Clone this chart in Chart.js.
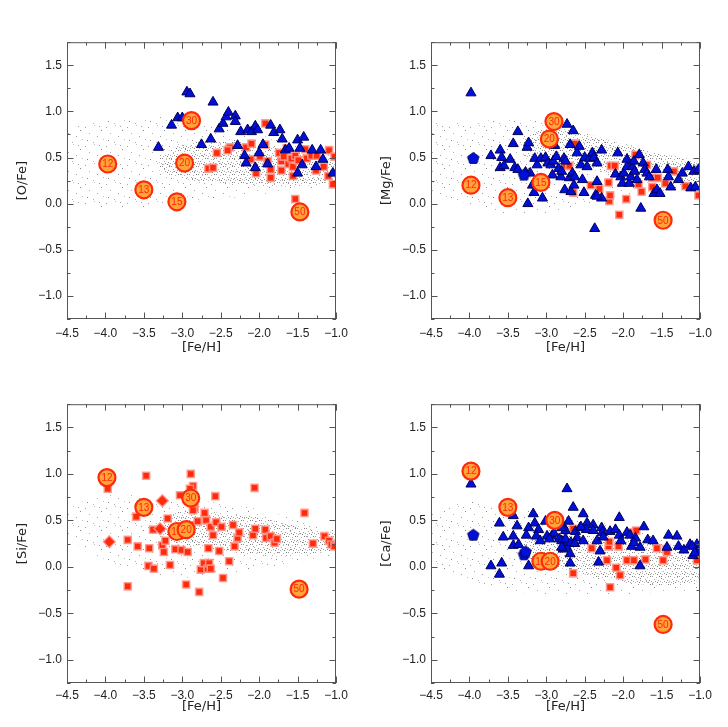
<!DOCTYPE html>
<html>
<head>
<meta charset="utf-8">
<script src="https://cdn.jsdelivr.net/npm/chart.js@4.4.1/dist/chart.umd.min.js"></script>
<style>
  body { margin: 0; background: #fff; }
  #wrap { position: relative; width: 728px; height: 727px; overflow: hidden; }
  #wrap canvas { position: absolute; }
</style>
</head>
<body>
<div id="wrap">
  <canvas id="cO" width="364" height="335" style="left:0;top:30px;width:364px;height:335px"></canvas>
  <canvas id="cMg" width="364" height="335" style="left:364px;top:30px;width:364px;height:335px"></canvas>
  <canvas id="cSi" width="364" height="335" style="left:0;top:392px;width:364px;height:335px"></canvas>
  <canvas id="cCa" width="364" height="335" style="left:364px;top:392px;width:364px;height:335px"></canvas>
</div>
<script>
// ---- data ----
const massLabels = ['12', '13', '15', '20', '30', '50'];

// model cloud envelopes ([Fe/H] grid)
const cloudFeH = [-4.5, -4.0, -3.5, -3.0, -2.5, -2.0, -1.5, -1.0];
const coreFeH = [-3.3, -3.0, -2.5, -2.0, -1.5, -1.0];

const oCloudHi = [0.82, 0.90, 0.93, 0.95, 0.85, 0.75, 0.62, 0.50];
const oCloudLo = [0.02, -0.05, -0.05, 0.00, 0.05, 0.10, 0.15, 0.20];
const oCoreHi = [0.50, 0.64, 0.68, 0.63, 0.57, 0.48];
const oCoreLo = [0.36, 0.27, 0.23, 0.19, 0.19, 0.23];

const mgCloudHi = [0.88, 0.88, 0.92, 0.88, 0.80, 0.66, 0.54, 0.47];
const mgCloudLo = [0.10, 0.00, -0.12, -0.10, -0.02, 0.08, 0.13, 0.18];
const mgCoreHi = [0.72, 0.82, 0.76, 0.64, 0.54, 0.46];
const mgCoreLo = [0.50, 0.43, 0.38, 0.30, 0.26, 0.24];

const siCloudHi = [0.62, 0.80, 0.75, 0.74, 0.68, 0.62, 0.50, 0.40];
const siCloudLo = [0.30, 0.08, -0.06, -0.12, -0.08, -0.02, 0.05, 0.12];
const siCoreHi = [0.52, 0.60, 0.58, 0.53, 0.44, 0.36];
const siCoreLo = [0.34, 0.24, 0.18, 0.12, 0.12, 0.18];

const caCloudHi = [0.60, 0.70, 0.65, 0.58, 0.52, 0.42, 0.34, 0.27];
const caCloudLo = [0.02, -0.15, -0.26, -0.30, -0.30, -0.30, -0.28, -0.25];
const caCoreHi = [0.28, 0.35, 0.34, 0.30, 0.25, 0.20];
const caCoreLo = [0.10, 0.03, -0.08, -0.16, -0.20, -0.15];

// big labelled circles, in massLabels order
const oCircles = [[-3.97, 0.43], [-3.50, 0.15], [-3.07, 0.02], [-2.97, 0.44], [-2.88, 0.90], [-1.47, -0.09]];
const mgCircles = [[-3.98, 0.20], [-3.50, 0.065], [-3.07, 0.23], [-2.96, 0.70], [-2.90, 0.89], [-1.48, -0.18]];
const siCircles = [[-3.98, 0.96], [-3.50, 0.64], [-3.07, 0.38], [-2.95, 0.40], [-2.89, 0.74], [-1.48, -0.24]];
const caCircles = [[-3.98, 1.03], [-3.50, 0.64], [-3.07, 0.06], [-2.95, 0.06], [-2.89, 0.50], [-1.48, -0.62]];

const oTriangles = [
  [-3.31, 0.61], [-3.14, 0.85], [-3.06, 0.93], [-3.00, 0.93], [-2.94, 1.21], [-2.90, 1.19],
  [-2.60, 1.10], [-2.75, 0.64], [-2.63, 0.70], [-2.52, 0.81], [-2.47, 0.87], [-2.43, 0.94],
  [-2.40, 0.99], [-2.31, 0.95], [-2.31, 0.89], [-2.28, 0.63], [-2.24, 0.78], [-2.19, 0.52],
  [-2.17, 0.44], [-2.15, 0.80], [-2.10, 0.78], [-2.05, 0.84], [-2.02, 0.80], [-2.05, 0.39],
  [-2.00, 0.55], [-1.95, 0.64], [-1.85, 0.85], [-1.81, 0.77], [-1.73, 0.80], [-1.70, 0.70],
  [-1.66, 0.58], [-1.61, 0.60], [-1.89, 0.43], [-1.50, 0.69], [-1.42, 0.72], [-1.47, 0.60],
  [-1.44, 0.42], [-1.50, 0.33], [-1.31, 0.58], [-1.26, 0.40], [-1.20, 0.58], [-1.17, 0.48],
  [-1.04, 0.33]
];
const oSquares = [
  [-2.55, 0.55], [-2.66, 0.38], [-2.60, 0.39], [-2.38, 0.61], [-2.41, 0.58], [-2.17, 0.61],
  [-2.10, 0.65], [-2.11, 0.48], [-2.04, 0.33], [-1.92, 0.87], [-1.92, 0.64], [-1.99, 0.51],
  [-1.89, 0.46], [-1.85, 0.37], [-1.85, 0.28], [-1.74, 0.55], [-1.71, 0.46], [-1.71, 0.36],
  [-1.68, 0.51], [-1.64, 0.60], [-1.62, 0.43], [-1.58, 0.49], [-1.56, 0.40], [-1.53, 0.52],
  [-1.56, 0.30], [-1.49, 0.47], [-1.40, 0.59], [-1.38, 0.49], [-1.32, 0.52], [-1.25, 0.52],
  [-1.26, 0.36], [-1.16, 0.40], [-1.09, 0.58], [-1.10, 0.30], [-1.02, 0.51], [-1.04, 0.21],
  [-1.53, 0.05]
];

const mgTriangles = [
  [-3.98, 1.20], [-3.72, 0.52], [-3.60, 0.58], [-3.58, 0.50], [-3.60, 0.39], [-3.55, 0.41],
  [-3.47, 0.48], [-3.43, 0.65], [-3.37, 0.78], [-3.41, 0.39], [-3.37, 0.37], [-3.25, 0.61],
  [-3.23, 0.66], [-3.27, 0.34], [-3.21, 0.33], [-3.24, 0.00], [-3.18, 0.20], [-3.16, 0.12],
  [-3.15, 0.49], [-3.12, 0.42], [-3.07, 0.49], [-3.01, 0.50], [-3.05, 0.06], [-2.98, 0.44],
  [-2.94, 0.42], [-2.91, 0.46], [-2.92, 0.31], [-2.89, 0.63], [-2.87, 0.51], [-2.84, 0.38],
  [-2.81, 0.29], [-2.80, 0.35], [-2.77, 0.49], [-2.75, 0.46], [-2.76, 0.15], [-2.73, 0.86],
  [-2.70, 0.28], [-2.69, 0.64], [-2.68, 0.13], [-2.66, 0.33], [-2.65, 0.79], [-2.64, 0.20],
  [-2.63, 0.29], [-2.60, 0.55], [-2.57, 0.62], [-2.55, 0.42], [-2.53, 0.26], [-2.51, 0.12],
  [-2.50, 0.50], [-2.47, 0.40], [-2.44, 0.49], [-2.40, 0.55], [-2.38, 0.50], [-2.36, 0.09],
  [-2.34, 0.44], [-2.34, 0.24], [-2.28, 0.06], [-2.28, 0.58], [-2.37, -0.27], [-2.34, 0.08],
  [-2.07, 0.55], [-2.10, 0.32], [-2.03, 0.29], [-2.01, 0.22], [-1.99, 0.33], [-1.95, 0.48],
  [-1.95, 0.40], [-1.92, 0.22], [-1.90, 0.29], [-1.88, 0.40], [-1.86, 0.46], [-1.85, 0.35],
  [-1.82, 0.26], [-1.79, 0.53], [-1.77, -0.05], [-1.74, 0.44], [-1.72, 0.37], [-1.69, 0.33],
  [-1.66, 0.29], [-1.60, 0.11], [-1.57, 0.37], [-1.56, 0.15], [-1.52, 0.11], [-1.42, 0.37],
  [-1.41, 0.29], [-1.38, 0.18], [-1.28, 0.26], [-1.23, 0.33], [-1.15, 0.40], [-1.12, 0.17],
  [-1.08, 0.35], [-1.06, 0.18], [-1.02, 0.37]
];
const mgSquares = [
  [-2.75, 0.41], [-2.70, 0.41], [-2.63, 0.65], [-2.65, 0.12], [-2.42, 0.20], [-2.31, 0.16],
  [-2.19, 0.23], [-2.18, 0.03], [-2.17, 0.09], [-2.16, 0.41], [-2.11, 0.41], [-2.05, -0.12],
  [-1.96, 0.05], [-1.84, 0.53], [-1.80, 0.21], [-1.76, 0.13], [-1.69, 0.42], [-1.62, 0.28],
  [-1.62, 0.18], [-1.55, 0.28], [-1.45, 0.22], [-1.34, 0.35], [-1.19, 0.19], [-1.02, 0.09],
  [-1.02, 0.37]
];
const mgPentagons = [[-3.95, 0.49], [-3.29, 0.31]];

const siSquares = [
  [-3.97, 0.84], [-3.71, 0.29], [-3.71, -0.21], [-3.60, 0.54], [-3.58, 0.22], [-3.47, 0.98],
  [-3.43, 0.20], [-3.38, 0.40], [-3.44, 0.01], [-3.37, -0.02], [-3.26, 0.23], [-3.24, 0.16],
  [-3.22, 0.28], [-3.19, 0.52], [-3.16, 0.02], [-3.09, 0.19], [-3.03, 0.77], [-3.01, 0.18],
  [-2.95, -0.19], [-2.93, 0.16], [-2.89, 1.00], [-2.86, 0.87], [-2.90, 0.84], [-2.88, 0.45],
  [-2.84, 0.63], [-2.86, 0.61], [-2.80, 0.49], [-2.78, -0.27], [-2.76, -0.03], [-2.72, 0.04],
  [-2.71, 0.58], [-2.69, 0.50], [-2.67, -0.02], [-2.66, 0.20], [-2.65, 0.04], [-2.63, -0.02],
  [-2.63, 0.43], [-2.60, 0.34], [-2.57, 0.76], [-2.56, 0.48], [-2.52, 0.17], [-2.49, 0.43],
  [-2.47, -0.12], [-2.39, 0.06], [-2.34, 0.45], [-2.32, 0.22], [-2.28, 0.31], [-2.26, 0.37],
  [-2.08, 0.34], [-2.06, 0.85], [-2.05, 0.41], [-1.92, 0.40], [-1.91, 0.31], [-1.85, 0.33],
  [-1.80, 0.26], [-1.77, 0.30], [-1.41, 0.58], [-1.30, 0.25], [-1.15, 0.33], [-1.09, 0.28],
  [-1.06, 0.24], [-1.02, 0.22]
];
const siDiamonds = [[-3.95, 0.27], [-3.26, 0.71], [-3.29, 0.41]];

const caTriangles = [
  [-3.98, 0.89], [-3.72, 0.01], [-3.58, 0.04], [-3.61, -0.08], [-3.61, 0.47], [-3.56, 0.32],
  [-3.43, 0.55], [-3.38, 0.44], [-3.43, 0.33], [-3.43, 0.23], [-3.36, 0.24], [-3.23, 0.01],
  [-3.17, 0.57], [-3.23, 0.42], [-3.26, 0.34], [-3.15, 0.47], [-3.10, 0.40], [-3.13, 0.33],
  [-3.08, 0.28], [-3.01, 0.49], [-2.99, 0.33], [-2.93, 0.33], [-2.90, 0.36], [-2.96, 0.30],
  [-2.83, 0.30], [-2.73, 0.84], [-2.78, 0.44], [-2.75, 0.39], [-2.80, 0.28], [-2.78, 0.19],
  [-2.74, 0.22], [-2.65, 0.64], [-2.52, 0.57], [-2.71, 0.49], [-2.80, 0.42], [-2.62, 0.38],
  [-2.56, 0.42], [-2.47, 0.47], [-2.48, 0.40], [-2.39, 0.45], [-2.39, 0.39], [-2.28, 0.42],
  [-2.27, 0.37], [-2.17, 0.38], [-2.10, 0.40], [-2.05, 0.53], [-2.05, 0.34], [-1.95, 0.37],
  [-1.91, 0.34], [-1.84, 0.31], [-1.73, 0.43], [-1.68, 0.29], [-1.61, 0.28], [-1.41, 0.34],
  [-1.30, 0.33], [-1.28, 0.22], [-1.43, 0.21], [-1.21, 0.18], [-1.13, 0.24], [-1.04, 0.24],
  [-1.05, 0.17], [-1.09, 0.12], [-1.78, 0.01], [-2.32, 0.05], [-2.69, 0.04], [-2.75, 0.30],
  [-2.68, 0.26], [-2.80, 0.21], [-2.60, 0.31], [-2.52, 0.28], [-2.34, 0.28], [-2.30, 0.17],
  [-2.26, 0.32], [-2.03, 0.28], [-1.89, 0.22], [-1.78, 0.21], [-2.69, 0.14], [-1.86, 0.26],
  [-2.63, 0.25], [-2.55, 0.43], [-1.10, 0.22], [-1.07, 0.15]
];
const caSquares = [
  [-2.41, 0.20], [-2.19, 0.22], [-2.18, 0.27], [-2.06, 0.22], [-2.21, 0.07], [-2.65, -0.07],
  [-2.09, -0.01], [-2.04, -0.09], [-2.17, -0.22], [-1.95, 0.07], [-1.86, 0.07], [-1.87, 0.37],
  [-1.83, 0.39], [-1.71, 0.08], [-1.56, 0.20], [-1.48, 0.07], [-1.44, 0.19], [-1.04, 0.07],
  [-2.65, 0.41], [-1.43, 0.16]
];
const caPentagons = [[-3.95, 0.34], [-3.29, 0.13], [-3.27, 0.16]];

// ---- styling helpers ----
const RED = '#ff2a0a';
const BLUE = '#0010d8';

function pts(pairs) { return pairs.map(p => ({ x: p[0], y: p[1] })); }
function band(xs, ys) { return xs.map((x, i) => ({ x: x, y: ys[i] })); }

function dotPattern(w, h, dots, shades) {
  const c = document.createElement('canvas');
  c.width = w; c.height = h;
  const g = c.getContext('2d');
  dots.forEach((d, i) => {
    g.fillStyle = shades[i % shades.length];
    g.fillRect(d[0], d[1], 1, 1);
  });
  return document.createElement('canvas').getContext('2d').createPattern(c, 'repeat');
}
const sparseFill = dotPattern(21, 19,
  [[1, 2], [10, 0], [17, 5], [5, 8], [13, 11], [19, 14], [3, 15], [9, 17], [15, 1]],
  ['#a0a0a0', '#c0c0c0', '#888888', '#b0b0b0']);
const denseFill = dotPattern(9, 8,
  [[0, 0], [4, 1], [7, 0], [2, 3], [6, 4], [1, 6], [5, 6], [8, 5], [3, 5]],
  ['#969696', '#b4b4b4', '#7c7c7c', '#a8a8a8']);

function pentagonImage(r) {
  const s = Math.ceil(r * 2 + 3);
  const c = document.createElement('canvas');
  c.width = s; c.height = s;
  const g = c.getContext('2d');
  g.beginPath();
  for (let i = 0; i < 5; i++) {
    const a = -Math.PI / 2 + i * 2 * Math.PI / 5;
    const px = s / 2 + r * Math.cos(a), py = s / 2 + r * Math.sin(a);
    if (i) g.lineTo(px, py); else g.moveTo(px, py);
  }
  g.closePath();
  g.fillStyle = BLUE; g.fill();
  g.strokeStyle = '#000060'; g.lineWidth = 1; g.stroke();
  return c;
}
const pentagon = pentagonImage(6);

const isMajor = v => Math.abs(v * 2 - Math.round(v * 2)) < 1e-6;
const fmt = v => v.toFixed(1).replace('-', '\u2212');

// inward ticks on all four sides + frame
const frameTicks = {
  id: 'frameTicks',
  afterDraw(chart) {
    const { ctx, chartArea: a, scales: { x, y } } = chart;
    ctx.save();
    ctx.strokeStyle = '#555';
    ctx.lineWidth = 1;
    ctx.strokeRect(a.left + 0.5, a.top + 0.5, a.right - a.left - 1, a.bottom - a.top - 1);
    ctx.beginPath();
    x.ticks.forEach(t => {
      const px = Math.round(x.getPixelForValue(t.value)) + 0.5;
      const len = isMajor(t.value) ? 6.5 : 3.5;
      ctx.moveTo(px, a.bottom); ctx.lineTo(px, a.bottom - len);
      ctx.moveTo(px, a.top); ctx.lineTo(px, a.top + len);
    });
    y.ticks.forEach(t => {
      const py = Math.round(y.getPixelForValue(t.value)) + 0.5;
      const len = isMajor(t.value) ? 6.5 : 3.5;
      ctx.moveTo(a.left, py); ctx.lineTo(a.left + len, py);
      ctx.moveTo(a.right, py); ctx.lineTo(a.right - len, py);
    });
    ctx.stroke();
    ctx.restore();
  }
};

// mass number written into each big circle
const massText = {
  id: 'massText',
  afterDatasetDraw(chart, args) {
    const ds = chart.data.datasets[args.index];
    if (!ds.mass) return;
    const p = args.meta.data[0];
    const ctx = chart.ctx;
    ctx.save();
    ctx.font = '10px "Liberation Sans Narrow", "Liberation Sans", sans-serif';
    ctx.fillStyle = RED;
    ctx.textAlign = 'center';
    ctx.textBaseline = 'middle';
    ctx.fillText(ds.mass, p.x, p.y + 0.5);
    ctx.restore();
  }
};

function makePanel(id, yTitle, cloud, circles, triangles, squares, extra, xPad) {
  const datasets = [];
  circles.forEach((c, i) => {
    datasets.push({
      mass: massLabels[i], data: pts([c]), order: 10 - i,
      pointStyle: 'circle', pointRadius: 8.5,
      backgroundColor: '#ffa33a', borderColor: RED, borderWidth: 2.2
    });
  });
  if (extra) datasets.push(Object.assign({ order: 11 }, extra));
  if (triangles) datasets.push({
    data: pts(triangles), order: 12, pointStyle: 'triangle', pointRadius: 5.8,
    backgroundColor: BLUE, borderColor: '#00005a', borderWidth: 1
  });
  if (squares) datasets.push({
    data: pts(squares), order: 13, pointStyle: 'rect', pointRadius: 5,
    backgroundColor: RED, borderColor: 'rgba(255,150,140,0.85)', borderWidth: 1.6
  });
  const lineBase = { type: 'line', pointRadius: 0, borderColor: 'transparent', tension: 0.35 };
  datasets.push(Object.assign({ data: band(cloudFeH, cloud[0]), order: 30, fill: false }, lineBase));
  datasets.push(Object.assign({ data: band(cloudFeH, cloud[1]), order: 31, fill: '-1', backgroundColor: sparseFill }, lineBase));
  datasets.push(Object.assign({ data: band(coreFeH, cloud[2]), order: 28, fill: false }, lineBase));
  datasets.push(Object.assign({ data: band(coreFeH, cloud[3]), order: 29, fill: '-1', backgroundColor: denseFill }, lineBase));

  new Chart(document.getElementById(id), {
    type: 'scatter',
    data: { datasets: datasets },
    options: {
      responsive: false,
      animation: false,
      events: [],
      layout: { padding: { top: 12, right: 28, left: 0, bottom: 0 } },
      plugins: { legend: { display: false }, tooltip: { enabled: false } },
      scales: {
        x: {
          type: 'linear', min: -4.5, max: -1.0,
          grid: { display: false, drawTicks: false }, border: { display: false },
          ticks: {
            stepSize: 0.25, autoSkip: false, maxRotation: 0, padding: xPad.tick,
            color: '#222', font: { family: '"Liberation Sans", Arial, sans-serif', size: 12 },
            callback: v => isMajor(v) ? fmt(v) : ''
          },
          title: {
            display: true, text: '[Fe/H]', color: '#222',
            font: { family: '"DejaVu Sans", sans-serif', size: 13 },
            padding: { top: 0, bottom: xPad.title }
          },
          afterFit: s => { s.height = xPad.height; }
        },
        y: {
          type: 'linear', min: -1.25, max: 1.75,
          grid: { display: false, drawTicks: false }, border: { display: false },
          ticks: {
            stepSize: 0.25, autoSkip: false, padding: 5,
            color: '#222', font: { family: '"Liberation Sans", Arial, sans-serif', size: 12 },
            callback: v => isMajor(v) ? fmt(v) : ''
          },
          title: {
            display: true, text: yTitle, color: '#222',
            font: { family: '"DejaVu Sans", sans-serif', size: 13 },
            padding: { top: 15, bottom: 0 }
          },
          afterFit: s => { s.width = 67; }
        }
      }
    },
    plugins: [frameTicks, massText]
  });
}

const topRow = { tick: 7, title: 10, height: 46 };
const bottomRow = { tick: 5, title: 13, height: 44 };

makePanel('cO', '[O/Fe]', [oCloudHi, oCloudLo, oCoreHi, oCoreLo],
  oCircles, oTriangles, oSquares, null, topRow);
makePanel('cMg', '[Mg/Fe]', [mgCloudHi, mgCloudLo, mgCoreHi, mgCoreLo],
  mgCircles, mgTriangles, mgSquares,
  { data: pts(mgPentagons), pointStyle: pentagon }, topRow);
makePanel('cSi', '[Si/Fe]', [siCloudHi, siCloudLo, siCoreHi, siCoreLo],
  siCircles, null, siSquares,
  { data: pts(siDiamonds), pointStyle: 'rectRot', pointRadius: 6, backgroundColor: RED,
    borderColor: 'rgba(255,150,140,0.85)', borderWidth: 1.4 }, bottomRow);
makePanel('cCa', '[Ca/Fe]', [caCloudHi, caCloudLo, caCoreHi, caCoreLo],
  caCircles, caTriangles, caSquares,
  { data: pts(caPentagons), pointStyle: pentagon }, bottomRow);
</script>
</body>
</html>
